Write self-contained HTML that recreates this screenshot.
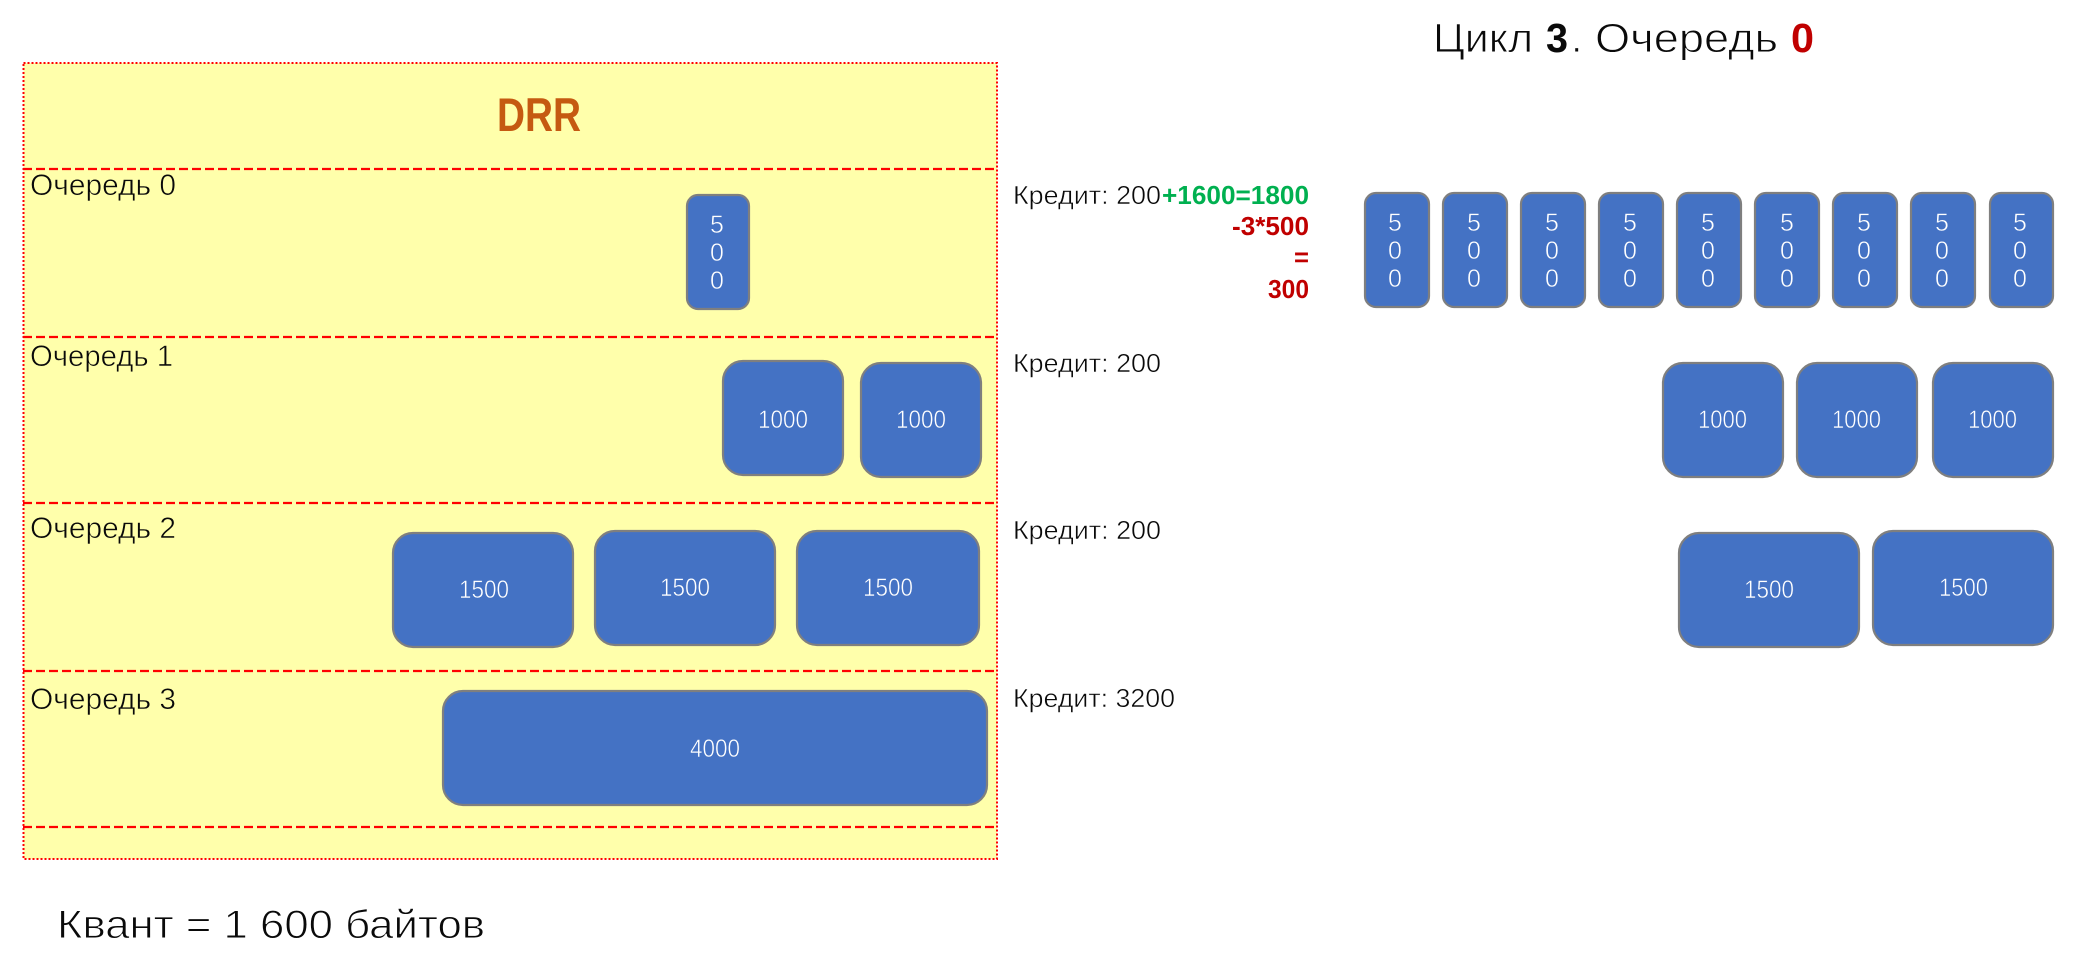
<!DOCTYPE html>
<html lang="ru">
<head>
<meta charset="utf-8">
<title>DRR</title>
<style>
html,body{margin:0;padding:0;background:#fff;width:2086px;height:970px;overflow:hidden}
svg{display:block}
text{font-family:"Liberation Sans","DejaVu Sans",sans-serif;fill:#0a0a0a}
.b{fill:#4472C4;stroke:#7F7F7F;stroke-width:2.2}
.w{fill:#fff;font-size:25px;stroke:#4472C4;stroke-width:.55}
.d{fill:#fff;font-size:25px;text-anchor:middle;stroke:#4472C4;stroke-width:.55}
.q{font-size:30px;stroke:#FFFFAB;stroke-width:.6}
.k{font-size:26px;stroke:#fff;stroke-width:.5}
.t{font-size:41px;stroke:#fff;stroke-width:.9}
.m{font-size:40px;stroke:#fff;stroke-width:.9}
.bd{font-weight:bold;stroke:none}
.dash{stroke:#FF0000;stroke-width:2.2;stroke-dasharray:9 4;fill:none}
</style>
</head>
<body>
<svg width="2086" height="970" viewBox="0 0 2086 970" xmlns="http://www.w3.org/2000/svg">
<rect x="23.5" y="63" width="973.5" height="796" fill="#FFFFAB" stroke="#FF0000" stroke-width="2" stroke-dasharray="2 2"/>
<line class="dash" x1="23" y1="169" x2="997" y2="169"/>
<line class="dash" x1="23" y1="337" x2="997" y2="337"/>
<line class="dash" x1="23" y1="503" x2="997" y2="503"/>
<line class="dash" x1="23" y1="671" x2="997" y2="671"/>
<line class="dash" x1="23" y1="827" x2="997" y2="827"/>

<text x="497" y="131" class="bd" font-size="47" style="fill:#C55A11" textLength="84" lengthAdjust="spacingAndGlyphs">DRR</text>

<text x="30" y="195" class="q" textLength="146" lengthAdjust="spacingAndGlyphs">Очередь 0</text>
<text x="30" y="366" class="q" textLength="143" lengthAdjust="spacingAndGlyphs">Очередь 1</text>
<text x="30" y="538" class="q" textLength="146" lengthAdjust="spacingAndGlyphs">Очередь 2</text>
<text x="30" y="709" class="q" textLength="146" lengthAdjust="spacingAndGlyphs">Очередь 3</text>

<rect class="b" x="687" y="195" width="62" height="114" rx="11"/>
<text class="d" x="717" y="233">5</text><text class="d" x="717" y="261">0</text><text class="d" x="717" y="289">0</text>

<rect class="b" x="723" y="361" width="120" height="114" rx="20"/>
<text class="w" x="758" y="428" textLength="50" lengthAdjust="spacingAndGlyphs">1000</text>
<rect class="b" x="861" y="363" width="120" height="114" rx="20"/>
<text class="w" x="896" y="428" textLength="50" lengthAdjust="spacingAndGlyphs">1000</text>

<rect class="b" x="393" y="533" width="180" height="114" rx="20"/>
<text class="w" x="459" y="598" textLength="50" lengthAdjust="spacingAndGlyphs">1500</text>
<rect class="b" x="595" y="531" width="180" height="114" rx="20"/>
<text class="w" x="660" y="596" textLength="50" lengthAdjust="spacingAndGlyphs">1500</text>
<rect class="b" x="797" y="531" width="182" height="114" rx="20"/>
<text class="w" x="863" y="596" textLength="50" lengthAdjust="spacingAndGlyphs">1500</text>

<rect class="b" x="443" y="691" width="544" height="114" rx="20"/>
<text class="w" x="690" y="757" textLength="50" lengthAdjust="spacingAndGlyphs">4000</text>

<text x="57" y="938" class="m" textLength="428" lengthAdjust="spacingAndGlyphs">Квант = 1 600 байтов</text>

<text x="1433" y="52" class="t" textLength="100" lengthAdjust="spacingAndGlyphs">Цикл</text>
<text x="1546" y="52" font-size="41" class="bd" textLength="22" lengthAdjust="spacingAndGlyphs">3</text>
<text x="1571" y="52" class="t">.</text>
<text x="1595" y="52" class="t" textLength="183" lengthAdjust="spacingAndGlyphs">Очередь</text>
<text x="1791" y="52" font-size="41" class="bd" style="fill:#C00000" textLength="23" lengthAdjust="spacingAndGlyphs">0</text>

<text x="1013" y="204" class="k" textLength="148" lengthAdjust="spacingAndGlyphs">Кредит: 200</text>
<text x="1162" y="204" font-size="26" class="bd" style="fill:#00B050" textLength="147" lengthAdjust="spacingAndGlyphs">+1600=1800</text>
<text x="1232" y="235" font-size="26" class="bd" style="fill:#C00000" textLength="77" lengthAdjust="spacingAndGlyphs">-3*500</text>
<text x="1294" y="266" font-size="26" class="bd" style="fill:#C00000" textLength="15" lengthAdjust="spacingAndGlyphs">=</text>
<text x="1268" y="298" font-size="26" class="bd" style="fill:#C00000" textLength="41" lengthAdjust="spacingAndGlyphs">300</text>

<text x="1013" y="372" class="k" textLength="148" lengthAdjust="spacingAndGlyphs">Кредит: 200</text>
<text x="1013" y="539" class="k" textLength="148" lengthAdjust="spacingAndGlyphs">Кредит: 200</text>
<text x="1013" y="707" class="k" textLength="162" lengthAdjust="spacingAndGlyphs">Кредит: 3200</text>

<rect class="b" x="1365" y="193" width="64" height="114" rx="11"/>
<text class="d" x="1395" y="231">5</text><text class="d" x="1395" y="259">0</text><text class="d" x="1395" y="287">0</text>
<rect class="b" x="1443" y="193" width="64" height="114" rx="11"/>
<text class="d" x="1474" y="231">5</text><text class="d" x="1474" y="259">0</text><text class="d" x="1474" y="287">0</text>
<rect class="b" x="1521" y="193" width="64" height="114" rx="11"/>
<text class="d" x="1552" y="231">5</text><text class="d" x="1552" y="259">0</text><text class="d" x="1552" y="287">0</text>
<rect class="b" x="1599" y="193" width="64" height="114" rx="11"/>
<text class="d" x="1630" y="231">5</text><text class="d" x="1630" y="259">0</text><text class="d" x="1630" y="287">0</text>
<rect class="b" x="1677" y="193" width="64" height="114" rx="11"/>
<text class="d" x="1708" y="231">5</text><text class="d" x="1708" y="259">0</text><text class="d" x="1708" y="287">0</text>
<rect class="b" x="1755" y="193" width="64" height="114" rx="11"/>
<text class="d" x="1787" y="231">5</text><text class="d" x="1787" y="259">0</text><text class="d" x="1787" y="287">0</text>
<rect class="b" x="1833" y="193" width="64" height="114" rx="11"/>
<text class="d" x="1864" y="231">5</text><text class="d" x="1864" y="259">0</text><text class="d" x="1864" y="287">0</text>
<rect class="b" x="1911" y="193" width="64" height="114" rx="11"/>
<text class="d" x="1942" y="231">5</text><text class="d" x="1942" y="259">0</text><text class="d" x="1942" y="287">0</text>
<rect class="b" x="1990" y="193" width="63" height="114" rx="11"/>
<text class="d" x="2020" y="231">5</text><text class="d" x="2020" y="259">0</text><text class="d" x="2020" y="287">0</text>

<rect class="b" x="1663" y="363" width="120" height="114" rx="20"/>
<text class="w" x="1698" y="428" textLength="49" lengthAdjust="spacingAndGlyphs">1000</text>
<rect class="b" x="1797" y="363" width="120" height="114" rx="20"/>
<text class="w" x="1832" y="428" textLength="49" lengthAdjust="spacingAndGlyphs">1000</text>
<rect class="b" x="1933" y="363" width="120" height="114" rx="20"/>
<text class="w" x="1968" y="428" textLength="49" lengthAdjust="spacingAndGlyphs">1000</text>

<rect class="b" x="1679" y="533" width="180" height="114" rx="20"/>
<text class="w" x="1744" y="598" textLength="50" lengthAdjust="spacingAndGlyphs">1500</text>
<rect class="b" x="1873" y="531" width="180" height="114" rx="20"/>
<text class="w" x="1939" y="596" textLength="49" lengthAdjust="spacingAndGlyphs">1500</text>
</svg>
</body>
</html>
